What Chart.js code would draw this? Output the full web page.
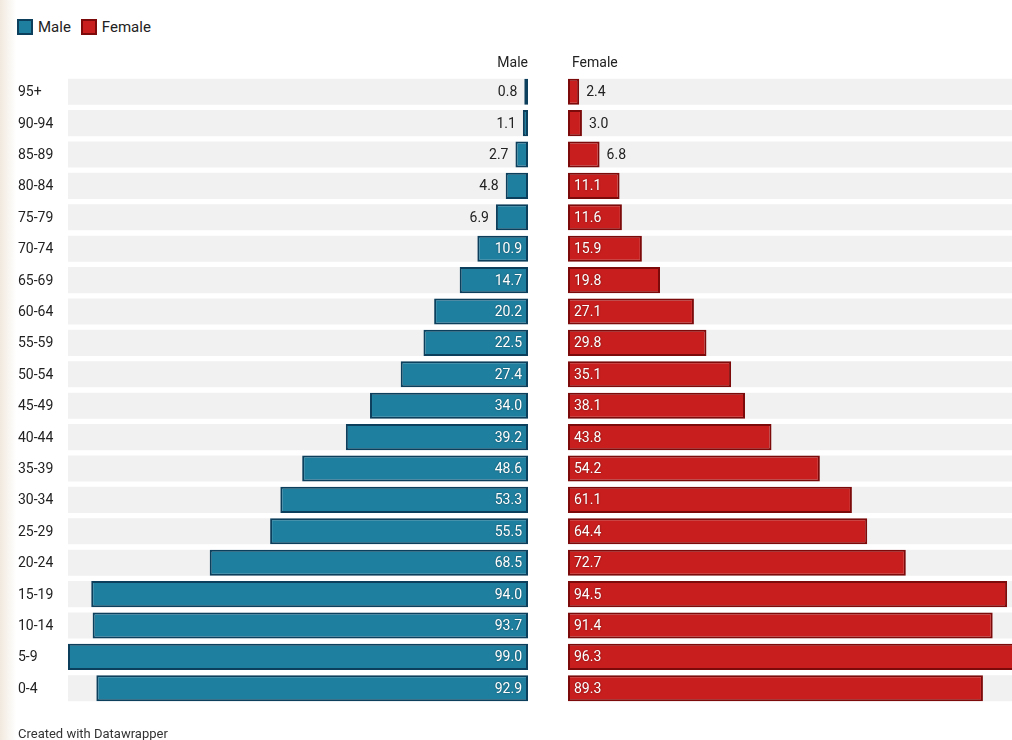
<!DOCTYPE html>
<html><head><meta charset="utf-8">
<script src="https://cdn.jsdelivr.net/npm/chart.js@4"></script>
<style>
html,body{margin:0;padding:0;background:#fff;width:1012px;height:740px;overflow:hidden;position:relative;font-family:Roboto,sans-serif;}
#edge{position:absolute;left:0;top:0;width:16px;height:740px;background:linear-gradient(to right,#f1e9de,rgba(255,255,255,0));}
canvas{position:absolute;left:0;top:0;}
.legend{position:absolute;top:18px;left:17px;font-size:15px;color:#222;display:flex;align-items:center;line-height:18px;}
.sw{width:12px;height:12px;border:2px solid;display:inline-block;margin-right:5px;box-sizing:content-box;}
.footer{position:absolute;left:18px;top:726px;font-size:13px;color:#333;}
</style></head>
<body>
<div id="edge"></div>
<div class="legend"><span class="sw" style="background:#1f7f9f;border-color:#0c3f5c"></span>Male<span style="width:10px"></span><span class="sw" style="background:#c81e1e;border-color:#7d0a0a"></span>Female</div>
<canvas id="m" width="1012" height="740"></canvas>
<canvas id="f" width="1040" height="740"></canvas>
<div class="footer">Created with Datawrapper</div>
<script>
const categories = ["95+","90-94","85-89","80-84","75-79","70-74","65-69","60-64","55-59","50-54","45-49","40-44","35-39","30-34","25-29","20-24","15-19","10-14","5-9","0-4"];
const maleValues = [0.8,1.1,2.7,4.8,6.9,10.9,14.7,20.2,22.5,27.4,34.0,39.2,48.6,53.3,55.5,68.5,94.0,93.7,99.0,92.9];
const femaleValues = [2.4,3.0,6.8,11.1,11.6,15.9,19.8,27.1,29.8,35.1,38.1,43.8,54.2,61.1,64.4,72.7,94.5,91.4,96.3,89.3];
const seriesNames = ["Male","Female"];
const axisMax = 99;

const valPlugin = {
  id:'vals',
  afterDatasetsDraw(chart, args, opts){
    const ctx = chart.ctx, meta = chart.getDatasetMeta(0), xs = chart.scales.x, ys = chart.scales.y;
    const dir = opts.side === 'left' ? -1 : 1;
    ctx.save();
    ctx.font = '14px Roboto';
    ctx.textBaseline = 'middle';
    const base = xs.getPixelForValue(0);
    meta.data.forEach((bar, i) => {
      const v = chart.data.datasets[0].data[i];
      const txt = v.toFixed(1);
      const end = xs.getPixelForValue(v);
      const w = Math.abs(end - base);
      const tw = ctx.measureText(txt).width;
      ctx.textAlign = dir < 0 ? 'right' : 'left';
      if (tw + 18 <= w) {
        ctx.shadowColor = 'rgba(0,0,0,0.45)'; ctx.shadowBlur = 2;
        ctx.fillStyle = '#fff';
        ctx.fillText(txt, base + dir * 6, bar.y + 1);
        ctx.shadowBlur = 0; ctx.shadowColor = 'transparent';
      } else {
        ctx.fillStyle = '#222';
        ctx.fillText(txt, end + dir * 7, bar.y + 1);
      }
    });
    ctx.fillStyle = '#222';
    ctx.fillText(opts.title, base + dir * (dir < 0 ? 0 : 4), chart.chartArea.top - 13);
    if (opts.cats) {
      ctx.textAlign = 'left';
      ctx.fillStyle = '#222';
      chart.data.labels.forEach((l, i) => ctx.fillText(l, 18, ys.getPixelForValue(i) + 1));
    }
    ctx.restore();
  }
};

function makeChart(id, values, color, border, side, title, pad, cats) {
  return new Chart(document.getElementById(id), {
    type: 'bar',
    data: {
      labels: categories,
      datasets: [
        {label: title, data: values, backgroundColor: color, borderColor: border, borderWidth: 2, borderSkipped: false,
         grouped: false, order: 1, barPercentage: 0.83, categoryPercentage: 1},
        {label: 'bg', data: categories.map(() => axisMax), backgroundColor: '#f1f1f1', borderWidth: 0,
         grouped: false, order: 2, barPercentage: 0.83, categoryPercentage: 1}
      ]
    },
    options: {
      indexAxis: 'y', responsive: false, animation: false,
      layout: {padding: pad},
      scales: {
        x: {type: 'linear', min: 0, max: axisMax, reverse: side === 'left', display: false},
        y: {display: false}
      },
      plugins: {legend: {display: false}, tooltip: {enabled: false}, vals: {side, title, cats}}
    },
    plugins: [valPlugin]
  });
}
makeChart('m', maleValues, '#1f7f9f', '#0c3f5c', 'left', seriesNames[0], {left: 68, right: 1012 - 528, top: 76, bottom: 36}, true);
makeChart('f', femaleValues, '#c81e1e', '#7d0a0a', 'right', seriesNames[1], {left: 568, right: 12, top: 76, bottom: 36}, false);
</script>
</body></html>
